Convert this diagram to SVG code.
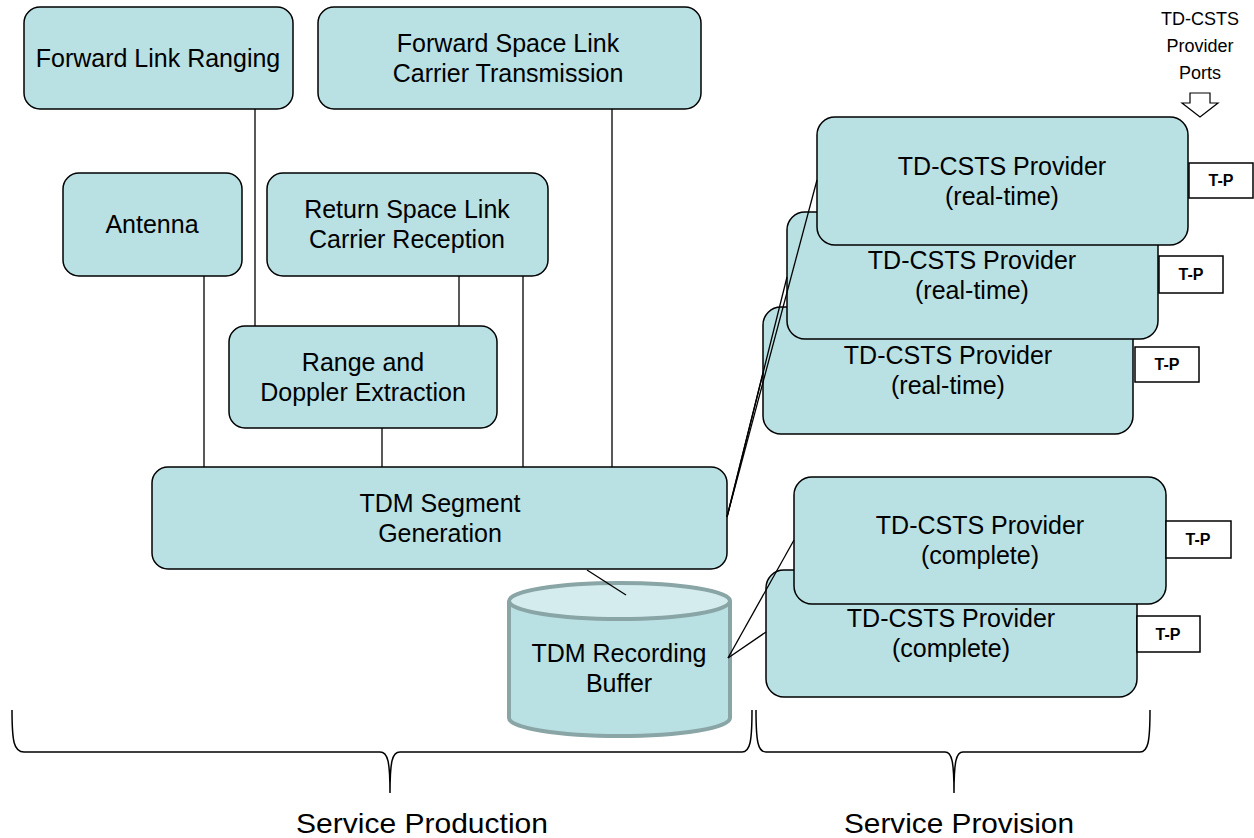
<svg xmlns="http://www.w3.org/2000/svg" width="1254" height="838" viewBox="0 0 1254 838">
<style>
.box{fill:#b9e0e3;stroke:#000;stroke-width:1.5}
.tp{fill:#fff;stroke:#000;stroke-width:1.5}
.t{font-family:"Liberation Sans",Arial,sans-serif;font-size:25px;fill:#000;text-anchor:middle}
.tpt{font-family:"Liberation Sans",Arial,sans-serif;font-size:16px;font-weight:bold;fill:#000;text-anchor:middle}
.lbl{font-family:"Liberation Sans",Arial,sans-serif;font-size:18px;fill:#000;text-anchor:middle}
.big{font-family:"Liberation Sans",Arial,sans-serif;font-size:28px;fill:#000;text-anchor:middle}
.conn line{stroke:#000;stroke-width:1.3}
.brace{fill:none;stroke:#000;stroke-width:1.5}
</style>
<rect width="1254" height="838" fill="#fff"/>

<g id="fwd-link-ranging"><rect class="box" x="24" y="7" width="269" height="102" rx="16"/><text class="t" x="158" y="67">Forward Link Ranging</text></g>
<g id="fwd-space-link"><rect class="box" x="318" y="7" width="383" height="102" rx="16"/><text class="t" x="508" y="52">Forward Space Link</text><text class="t" x="508" y="82">Carrier Transmission</text></g>
<g id="antenna"><rect class="box" x="63" y="173" width="179" height="103" rx="16"/><text class="t" x="152" y="233">Antenna</text></g>
<g id="return-space-link"><rect class="box" x="267" y="173" width="281" height="103" rx="16"/><text class="t" x="407" y="218">Return Space Link</text><text class="t" x="407" y="248">Carrier Reception</text></g>
<g id="range-doppler"><rect class="box" x="229" y="326" width="268" height="102" rx="16"/><text class="t" x="363" y="371">Range and</text><text class="t" x="363" y="401">Doppler Extraction</text></g>
<g id="tdm-seg"><rect class="box" x="152" y="467" width="575" height="102" rx="16"/><text class="t" x="440" y="512">TDM Segment</text><text class="t" x="440" y="542">Generation</text></g>
<g id="tdm-buffer">
<path d="M509,601 L509,718 A110.5,18 0 0 0 730,718 L730,601" fill="#b9e0e3" stroke="#8aa5a6" stroke-width="4"/>
<ellipse cx="619.5" cy="601" rx="110.5" ry="18" fill="#d5ecee" stroke="#8aa5a6" stroke-width="4"/>
<text class="t" x="619" y="662">TDM Recording</text><text class="t" x="619" y="692">Buffer</text></g>

<g id="rt3"><rect class="box" x="763" y="307" width="370" height="127" rx="18"/><text class="t" x="948" y="364">TD-CSTS Provider</text><text class="t" x="948" y="394">(real-time)</text><rect class="tp" x="1135" y="347" width="64" height="35"/><text class="tpt" x="1167" y="370">T-P</text></g>
<g id="rt2"><rect class="box" x="787" y="212" width="371" height="127" rx="18"/><text class="t" x="972" y="269">TD-CSTS Provider</text><text class="t" x="972" y="299">(real-time)</text><rect class="tp" x="1159" y="256" width="64" height="37"/><text class="tpt" x="1191" y="280">T-P</text></g>
<g id="rt1"><rect class="box" x="817" y="117" width="371" height="128" rx="18"/><text class="t" x="1002" y="175">TD-CSTS Provider</text><text class="t" x="1002" y="205">(real-time)</text><rect class="tp" x="1189" y="163" width="64" height="35"/><text class="tpt" x="1221" y="186">T-P</text></g>
<g id="cp2"><rect class="box" x="766" y="570" width="371" height="127" rx="18"/><text class="t" x="951" y="627">TD-CSTS Provider</text><text class="t" x="951" y="657">(complete)</text><rect class="tp" x="1137" y="616" width="63" height="36"/><text class="tpt" x="1168" y="640">T-P</text></g>
<g id="cp1"><rect class="box" x="794" y="477" width="372" height="127" rx="18"/><text class="t" x="980" y="534">TD-CSTS Provider</text><text class="t" x="980" y="564">(complete)</text><rect class="tp" x="1166" y="521" width="65" height="37"/><text class="tpt" x="1198" y="545">T-P</text></g>

<g id="ports-label"><text class="lbl" x="1200" y="25">TD-CSTS</text><text class="lbl" x="1200" y="52">Provider</text><text class="lbl" x="1200" y="79">Ports</text>
<polygon points="1190,93 1210,93 1210,103 1218,103 1200,117 1182,103 1190,103" fill="#fff" stroke="#000" stroke-width="1.2"/></g>

<g class="conn" id="connectors">
<line x1="204" y1="276" x2="204" y2="467"/>
<line x1="255" y1="109" x2="255" y2="326"/>
<line x1="459" y1="276" x2="459" y2="326"/>
<line x1="523" y1="276" x2="523" y2="467"/>
<line x1="612" y1="109" x2="612" y2="467"/>
<line x1="382" y1="428" x2="382" y2="467"/>
<line x1="587" y1="570" x2="626" y2="595"/>
<line x1="727" y1="517" x2="817" y2="180"/>
<line x1="727" y1="517" x2="787" y2="277"/>
<line x1="727" y1="517" x2="763" y2="373"/>
<line x1="728" y1="658" x2="794" y2="540"/>
<line x1="728" y1="658" x2="766" y2="632"/>
</g>

<g id="braces">
<path class="brace" d="M12,710 C12,742 14,752 24,752 L380,752 C388,752 390,762 390,793 C390,762 392,752 400,752 L742,752 C750,752 752,742 752,710"/>
<path class="brace" d="M756,710 C756,742 758,752 766,752 L945,752 C952,752 954,762 954,793 C954,762 956,752 963,752 L1140,752 C1148,752 1150,742 1150,710"/>
<text class="big" x="422" y="833" textLength="252" lengthAdjust="spacingAndGlyphs">Service Production</text>
<text class="big" x="959" y="833" textLength="230" lengthAdjust="spacingAndGlyphs">Service Provision</text>
</g>
</svg>
